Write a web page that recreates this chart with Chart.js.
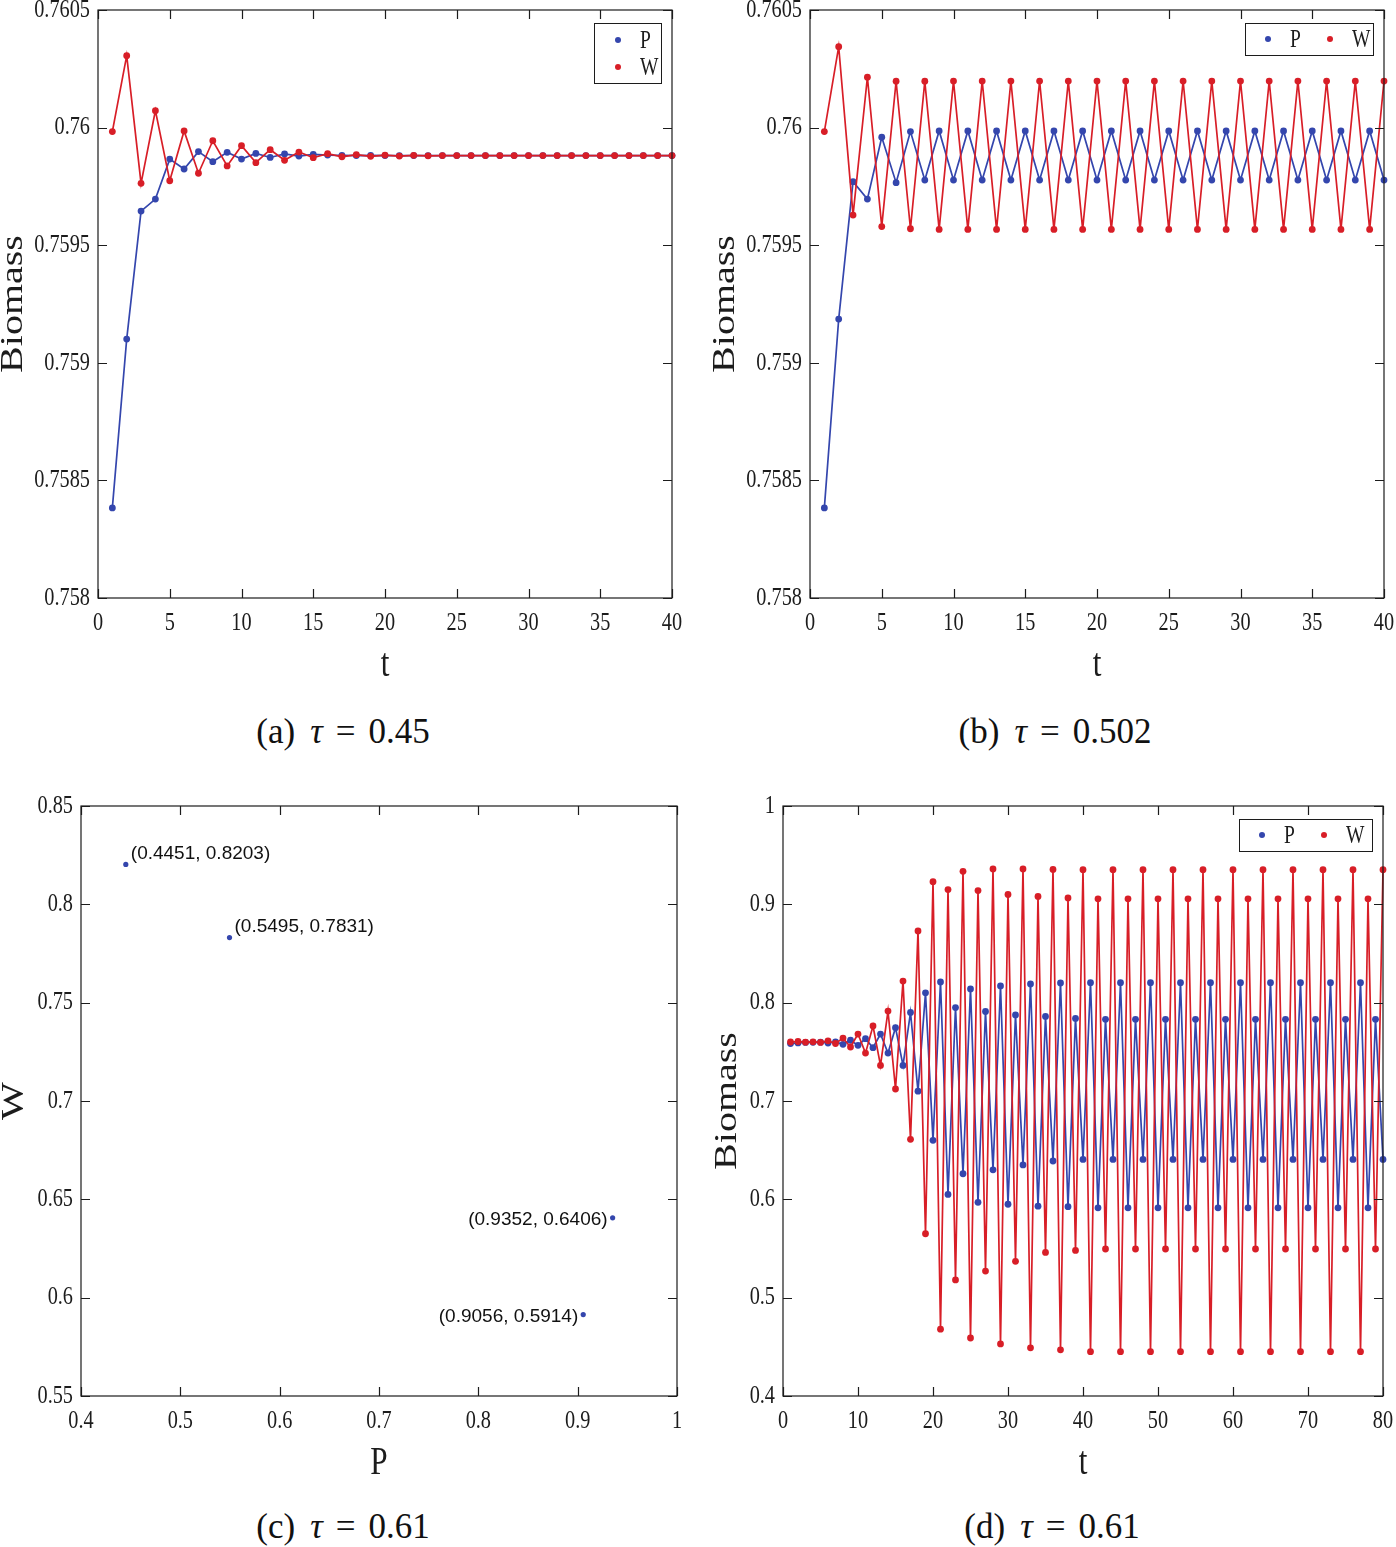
<!DOCTYPE html>
<html>
<head>
<meta charset="utf-8">
<script src="https://cdn.jsdelivr.net/npm/chart.js@4.4.0/dist/chart.umd.min.js"></script>
<style>
  body { margin: 0; background: #fff; width: 1396px; height: 1547px; position: relative; overflow: hidden; }
  canvas { position: absolute; }
  .cap { position: absolute; font-family: "Liberation Serif", "Times New Roman", serif; font-size: 35px; color: #111;
         transform: translateX(-50%); white-space: nowrap; line-height: 40px; }
  .cap i { margin-left: 15px; }
  .cap .eq { margin: 0 13px; }
</style>
</head>
<body>
<canvas id="chartA" width="698" height="700" style="left:0;top:0"></canvas>
<canvas id="chartB" width="698" height="700" style="left:698px;top:0"></canvas>
<canvas id="chartC" width="698" height="720" style="left:0;top:780px"></canvas>
<canvas id="chartD" width="698" height="720" style="left:698px;top:780px"></canvas>

<div class="cap" style="left:343px;top:712px">(a)<i>τ</i><span class="eq">=</span>0.45</div>
<div class="cap" style="left:1055px;top:712px">(b)<i>τ</i><span class="eq">=</span>0.502</div>
<div class="cap" style="left:343px;top:1507px">(c)<i>τ</i><span class="eq">=</span>0.61</div>
<div class="cap" style="left:1052px;top:1507px">(d)<i>τ</i><span class="eq">=</span>0.61</div>

<script>
// time steps shared by the three time-series panels
const timeSteps = [1,2,3,4,5,6,7,8,9,10,11,12,13,14,15,16,17,18,19,20,
  21,22,23,24,25,26,27,28,29,30,31,32,33,34,35,36,37,38,39,40,
  41,42,43,44,45,46,47,48,49,50,51,52,53,54,55,56,57,58,59,60,
  61,62,63,64,65,66,67,68,69,70,71,72,73,74,75,76,77,78,79,80];

// (a) tau = 0.45
const aP = [0.758383,0.759101,0.759645,0.759696,0.759866,0.759824,0.759898,0.759855,0.759895,0.759866,
  0.759890,0.759873,0.759888,0.759879,0.759886,0.759883,0.759882,0.759881,0.759882,0.759881,
  0.759881,0.759881,0.759881,0.759881,0.759881,0.759881,0.759881,0.759881,0.759881,0.759881,
  0.759881,0.759881,0.759881,0.759881,0.759881,0.759881,0.759881,0.759881,0.759881,0.759881];
const aW = [0.759983,0.760306,0.759763,0.760072,0.759774,0.759986,0.759806,0.759944,0.759837,0.759923,
  0.759851,0.759906,0.759861,0.759896,0.759872,0.759889,0.759876,0.759885,0.759878,0.759883,
  0.759879,0.759882,0.759880,0.759881,0.759881,0.759881,0.759881,0.759881,0.759881,0.759881,
  0.759881,0.759881,0.759881,0.759881,0.759881,0.759881,0.759881,0.759881,0.759881,0.759881];

// (b) tau = 0.502
const bP = [0.758383,0.759186,0.759770,0.759696,0.759959,0.759766,0.759983,0.759777,0.759986,0.759777,
  0.759986,0.759777,0.759986,0.759777,0.759986,0.759777,0.759986,0.759777,0.759986,0.759777,
  0.759986,0.759777,0.759986,0.759777,0.759986,0.759777,0.759986,0.759777,0.759986,0.759777,
  0.759986,0.759777,0.759986,0.759777,0.759986,0.759777,0.759986,0.759777,0.759986,0.759777];
const bW = [0.759983,0.760344,0.759628,0.760214,0.759579,0.760197,0.759570,0.760197,0.759567,0.760198,
  0.759567,0.760198,0.759567,0.760198,0.759567,0.760198,0.759567,0.760198,0.759567,0.760198,
  0.759567,0.760198,0.759567,0.760198,0.759567,0.760198,0.759567,0.760198,0.759567,0.760198,
  0.759567,0.760198,0.759567,0.760198,0.759567,0.760198,0.759567,0.760198,0.759567,0.760198];

// (c) tau = 0.61, phase points
const cP = [0.4451, 0.5495, 0.9352, 0.9056];
const cW = [0.8203, 0.7831, 0.6406, 0.5914];

// (d) tau = 0.61
const dP = [0.7584,0.7591,0.7596,0.7597,0.7598,0.7590,0.7601,0.7576,0.7618,0.7566,
  0.7634,0.7542,0.7681,0.7487,0.7746,0.7362,0.7900,0.7100,0.8100,0.6600,
  0.8210,0.6050,0.7950,0.6260,0.8140,0.5970,0.7910,0.6300,0.8170,0.5950,
  0.7875,0.6350,0.8190,0.5930,0.7860,0.6390,0.8200,0.5925,0.7840,0.6406,
  0.8203,0.5914,0.7831,0.6406,0.8203,0.5914,0.7831,0.6406,0.8203,0.5914,
  0.7831,0.6406,0.8203,0.5914,0.7831,0.6406,0.8203,0.5914,0.7831,0.6406,
  0.8203,0.5914,0.7831,0.6406,0.8203,0.5914,0.7831,0.6406,0.8203,0.5914,
  0.7831,0.6406,0.8203,0.5914,0.7831,0.6406,0.8203,0.5914,0.7831,0.6406];
const dW = [0.7600,0.7605,0.7598,0.7602,0.7596,0.7612,0.7585,0.7640,0.7549,0.7681,
  0.7487,0.7763,0.7362,0.7915,0.7122,0.8220,0.6610,0.8730,0.5650,0.9230,
  0.4680,0.9150,0.5180,0.9336,0.4590,0.9140,0.5270,0.9360,0.4530,0.9100,
  0.5370,0.9360,0.4490,0.9080,0.5460,0.9355,0.4470,0.9065,0.5480,0.9352,
  0.4451,0.9056,0.5495,0.9352,0.4451,0.9056,0.5495,0.9352,0.4451,0.9056,
  0.5495,0.9352,0.4451,0.9056,0.5495,0.9352,0.4451,0.9056,0.5495,0.9352,
  0.4451,0.9056,0.5495,0.9352,0.4451,0.9056,0.5495,0.9352,0.4451,0.9056,
  0.5495,0.9352,0.4451,0.9056,0.5495,0.9352,0.4451,0.9056,0.5495,0.9352];

// tick labels
const tTicks40 = [0,5,10,15,20,25,30,35,40];
const tTicks80 = [0,10,20,30,40,50,60,70,80];
const abYTicks = [0.758,0.7585,0.759,0.7595,0.76,0.7605];
const cXTicks = [0.4,0.5,0.6,0.7,0.8,0.9,1];
const cYTicks = [0.55,0.6,0.65,0.7,0.75,0.8,0.85];
const dYTicks = [0.4,0.5,0.6,0.7,0.8,0.9,1];

const blue = '#3446ad';
const red = '#d81e27';
const ink = '#1c1c1c';
const squeeze = 0.78; // the figure text is narrow, like the exported original

function fmt(v) { return String(parseFloat(v.toFixed(4))); }

function narrowText(ctx, text, x, y, rotate) {
  ctx.save();
  ctx.translate(x, y);
  ctx.scale(squeeze, 1);
  if (rotate) ctx.rotate(-Math.PI / 2);
  ctx.fillText(text, 0, 0);
  ctx.restore();
}

// box, inward ticks on all four sides, tick labels and axis titles
const matlabAxes = {
  id: 'matlabAxes',
  afterDraw(chart, args, opts) {
    const { ctx, chartArea: a } = chart;
    const x = chart.scales.x, y = chart.scales.y;
    const len = 9;
    ctx.save();
    ctx.strokeStyle = ink;
    ctx.lineWidth = 1.2;
    ctx.strokeRect(a.left, a.top, a.right - a.left, a.bottom - a.top);
    ctx.beginPath();
    opts.xTicks.forEach(v => {
      const px = Math.round(x.getPixelForValue(v)) + 0.5;
      ctx.moveTo(px, a.bottom); ctx.lineTo(px, a.bottom - len);
      ctx.moveTo(px, a.top); ctx.lineTo(px, a.top + len);
    });
    opts.yTicks.forEach(v => {
      const py = Math.round(y.getPixelForValue(v)) + 0.5;
      ctx.moveTo(a.left, py); ctx.lineTo(a.left + len, py);
      ctx.moveTo(a.right, py); ctx.lineTo(a.right - len, py);
    });
    ctx.stroke();

    ctx.fillStyle = ink;
    ctx.font = '26px "Liberation Serif"';
    ctx.textBaseline = 'middle';
    ctx.textAlign = 'center';
    opts.xTicks.forEach(v => narrowText(ctx, fmt(v), x.getPixelForValue(v), a.bottom + 25));
    ctx.textAlign = 'right';
    opts.yTicks.forEach(v => narrowText(ctx, fmt(v), a.left - 8, y.getPixelForValue(v)));

    ctx.font = '40px "Liberation Serif"';
    ctx.textAlign = 'center';
    narrowText(ctx, opts.xTitle, (a.left + a.right) / 2, a.bottom + 67);
    narrowText(ctx, opts.yTitle, a.left - opts.yTitleGap, (a.top + a.bottom) / 2, true);
    ctx.restore();
  }
};

// marker-only legend boxed inside the top right corner of the plot
const markerLegend = {
  id: 'markerLegend',
  afterDraw(chart, args, opts) {
    const { ctx, chartArea: a } = chart;
    const left = a.right - 11 - opts.width;
    const top = a.top + 13;
    ctx.save();
    ctx.fillStyle = '#fff';
    ctx.fillRect(left, top, opts.width, opts.height);
    ctx.strokeStyle = ink;
    ctx.lineWidth = 1;
    ctx.strokeRect(left + 0.5, top + 0.5, opts.width, opts.height);
    ctx.font = '25px "Liberation Serif"';
    ctx.textBaseline = 'middle';
    ctx.textAlign = 'left';
    chart.data.datasets.forEach((ds, i) => {
      const k = opts.itemOrder[i];
      const cx = opts.vertical ? left + 24 : left + 23 + k * 62;
      const cy = opts.vertical ? top + 17 + k * 27 : top + opts.height / 2;
      ctx.fillStyle = ds.borderColor;
      ctx.beginPath();
      ctx.arc(cx, cy, 3, 0, Math.PI * 2);
      ctx.fill();
      ctx.fillStyle = ink;
      narrowText(ctx, ds.label, cx + 22, cy + 1);
    });
    ctx.restore();
  }
};

// coordinate notes next to the phase points
const pointNotes = {
  id: 'pointNotes',
  afterDraw(chart) {
    const { ctx } = chart;
    const x = chart.scales.x, y = chart.scales.y;
    ctx.save();
    ctx.font = '19px "Liberation Sans"';
    ctx.fillStyle = '#111';
    ctx.textBaseline = 'middle';
    cP.forEach((p, i) => {
      const px = x.getPixelForValue(p), py = y.getPixelForValue(cW[i]);
      const text = '(' + p.toFixed(4) + ', ' + cW[i].toFixed(4) + ')';
      if (p > 0.8) {
        ctx.textAlign = 'right';
        ctx.fillText(text, px - 5, py + 2);
      } else {
        ctx.textAlign = 'left';
        ctx.fillText(text, px + 5, py - 11);
      }
    });
    ctx.restore();
  }
};

Chart.register(matlabAxes, markerLegend);

function seriesPoints(xs, ys) {
  return ys.map((v, i) => ({ x: xs[i], y: v }));
}

function lineDataset(label, ys, color, order) {
  return {
    label: label,
    data: seriesPoints(timeSteps, ys),
    borderColor: color,
    backgroundColor: color,
    pointBackgroundColor: color,
    borderWidth: 1.7,
    pointRadius: 3.4,
    pointBorderWidth: 0,
    tension: 0,
    clip: false,
    order: order
  };
}

function makeOptions(xMin, xMax, yMin, yMax, pad, axes, legend) {
  return {
    responsive: false,
    animation: false,
    events: [],
    layout: { padding: pad },
    plugins: {
      legend: { display: false },
      tooltip: { enabled: false },
      matlabAxes: axes,
      markerLegend: legend
    },
    scales: {
      x: { type: 'linear', min: xMin, max: xMax, display: false },
      y: { type: 'linear', min: yMin, max: yMax, display: false }
    }
  };
}

new Chart(document.getElementById('chartA'), {
  type: 'line',
  data: { datasets: [lineDataset('P', aP, blue, 2), lineDataset('W', aW, red, 1)] },
  options: makeOptions(0, 40, 0.758, 0.7605,
    { left: 98, top: 10, right: 26, bottom: 102 },
    { xTicks: tTicks40, yTicks: abYTicks, xTitle: 't', yTitle: 'Biomass', yTitleGap: 84 },
    { vertical: true, width: 67, height: 60, itemOrder: [0, 1] })
});

new Chart(document.getElementById('chartB'), {
  type: 'line',
  data: { datasets: [lineDataset('P', bP, blue, 2), lineDataset('W', bW, red, 1)] },
  options: makeOptions(0, 40, 0.758, 0.7605,
    { left: 112, top: 10, right: 12, bottom: 102 },
    { xTicks: tTicks40, yTicks: abYTicks, xTitle: 't', yTitle: 'Biomass', yTitleGap: 84 },
    { vertical: false, width: 128, height: 32, itemOrder: [0, 1] })
});

new Chart(document.getElementById('chartC'), {
  type: 'scatter',
  data: {
    datasets: [{
      label: 'P-W',
      data: seriesPoints(cP, cW),
      borderColor: blue,
      backgroundColor: blue,
      pointRadius: 2.6,
      pointBorderWidth: 0,
      clip: false
    }]
  },
  options: makeOptions(0.4, 1, 0.55, 0.85,
    { left: 81, top: 26, right: 21, bottom: 104 },
    { xTicks: cXTicks, yTicks: cYTicks, xTitle: 'P', yTitle: 'W', yTitleGap: 66 },
    false),
  plugins: [pointNotes]
});

new Chart(document.getElementById('chartD'), {
  type: 'line',
  data: { datasets: [lineDataset('P', dP, blue, 2), lineDataset('W', dW, red, 1)] },
  options: makeOptions(0, 80, 0.4, 1,
    { left: 85, top: 26, right: 13, bottom: 104 },
    { xTicks: tTicks80, yTicks: dYTicks, xTitle: 't', yTitle: 'Biomass', yTitleGap: 55 },
    { vertical: false, width: 133, height: 32, itemOrder: [0, 1] })
});
</script>
</body>
</html>
